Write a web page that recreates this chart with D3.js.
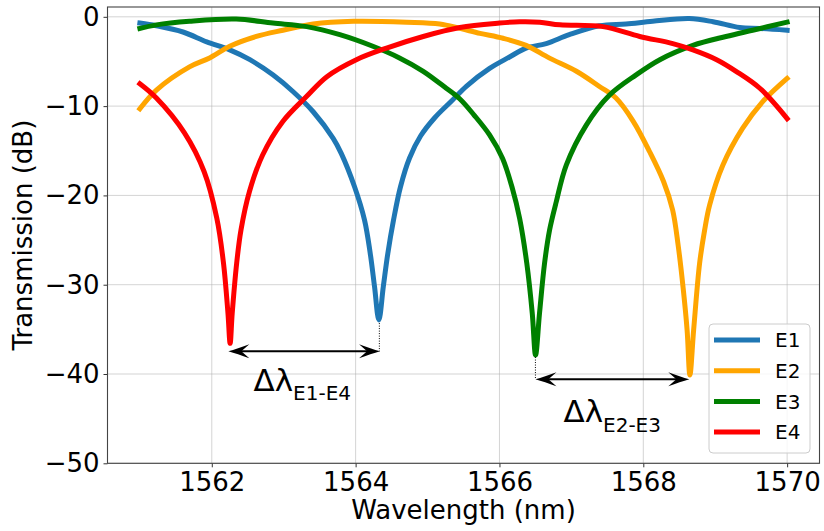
<!DOCTYPE html>
<html>
<head>
<meta charset="utf-8">
<script src="https://cdn.jsdelivr.net/npm/d3@7"></script>
<style>
  html, body { margin: 0; padding: 0; background: #fff; }
  svg { display: block; font-family: "DejaVu Sans", sans-serif; }
</style>
</head>
<body>
<svg id="chart" width="824" height="531"></svg>
<script>
// ---------------- data ----------------
const seriesNames = ["E1", "E2", "E3", "E4"];
const seriesColors = ["#1f77b4", "#ffa500", "#008000", "#ff0000"];

const e1Wl = [1561.00,1561.23,1561.60,1561.93,1562.25,1562.53,1562.854,1563.132,1563.41,1563.688,1563.80,1563.985,1564.124,1564.203,1564.263,1564.323,1564.385,1564.448,1564.527,1564.624,1564.75,1564.903,1565.097,1565.334,1565.543,1565.863,1566.14,1566.37,1566.65,1566.97,1567.39,1567.76,1568.13,1568.64,1568.97,1569.34,1569.62,1570.00];
const e1Db = [-0.7,-1.0,-1.7,-2.8,-3.7,-4.8,-6.52,-8.39,-10.63,-13.61,-15.29,-19.03,-22.76,-26.48,-30.22,-33.95,-30.22,-26.48,-22.76,-19.03,-15.81,-13.35,-11.33,-9.43,-7.75,-5.77,-4.5,-3.5,-3.0,-2.0,-1.0,-0.8,-0.5,-0.2,-0.55,-1.2,-1.3,-1.5];

const e2Wl = [1561.00,1561.23,1561.69,1561.97,1562.25,1562.62,1562.99,1563.41,1563.97,1564.71,1565.17,1565.45,1565.73,1566.05,1566.37,1566.69,1567.07,1567.39,1567.62,1567.86,1568.088,1568.283,1568.408,1568.484,1568.554,1568.609,1568.648,1568.70,1568.783,1568.853,1568.922,1569.107,1569.38,1569.66,1570.00];
const e2Db = [-10.3,-8.2,-5.6,-4.6,-3.3,-2.2,-1.5,-0.8,-0.5,-0.6,-0.8,-1.3,-1.85,-2.4,-3.2,-4.6,-6.1,-7.8,-9.1,-11.7,-15.11,-18.47,-21.63,-25.55,-30.37,-35.07,-40.11,-35.07,-27.6,-23.87,-21.08,-16.6,-12.5,-9.5,-6.9];

const e3Wl = [1561.00,1561.23,1561.69,1562.34,1562.85,1563.32,1563.78,1564.24,1564.61,1564.94,1565.26,1565.45,1565.647,1565.86,1566.042,1566.179,1566.28,1566.38,1566.456,1566.502,1566.557,1566.627,1566.697,1566.79,1566.929,1567.207,1567.531,1567.90,1568.23,1568.69,1569.15,1569.52,1570.00];
const e3Db = [-1.3,-0.9,-0.5,-0.25,-0.7,-1.1,-2.0,-3.3,-4.6,-6.1,-8.0,-9.2,-11.0,-13.2,-15.85,-19.2,-22.56,-27.6,-33.2,-37.87,-33.2,-27.6,-23.87,-20.71,-16.6,-12.12,-8.76,-6.5,-4.8,-3.2,-2.2,-1.5,-0.6];

const e4Wl = [1561.00,1561.23,1561.62,1561.894,1562.07,1562.163,1562.225,1562.255,1562.284,1562.346,1562.406,1562.523,1562.707,1562.985,1563.32,1563.60,1564.01,1564.43,1564.94,1565.45,1566.00,1566.28,1566.56,1566.84,1567.44,1567.95,1568.41,1568.69,1569.02,1569.29,1569.62,1570.00];
const e4Db = [-7.5,-9.1,-13.0,-17.35,-22.56,-27.6,-33.2,-36.56,-33.2,-27.6,-23.87,-19.59,-15.48,-11.75,-8.9,-6.7,-4.8,-3.5,-2.2,-1.2,-0.7,-0.55,-0.6,-0.9,-1.1,-2.2,-3.0,-3.7,-4.8,-6.1,-8.0,-11.4];

const xTickValues = [1562, 1564, 1566, 1568, 1570];
const xTickLabels = ["1562", "1564", "1566", "1568", "1570"];
const yTickValues = [-50, -40, -30, -20, -10, 0];
const yTickLabels = ["\u221250", "\u221240", "\u221230", "\u221220", "\u221210", "0"];

// annotations: arrow [λ start, λ end, dB], dotted guide [λ, dB top, dB bottom], label [λ, dB, subscript]
const arrows = [[1562.23, 1564.34, -37.45], [1566.50, 1568.64, -40.6]];
const guides = [[1564.33, -34.3, -37.45], [1566.50, -38.1, -40.6]];
const labels = [[1562.58, -41.9, "E1-E4"], [1566.89, -45.4, "E2-E3"]];

// ---------------- drawing ----------------
const svg = d3.select("#chart");
const x = d3.scaleLinear().domain([1560.55, 1570.45]).range([107.5, 819.5]);
const y = d3.scaleLinear().domain([-50, 1.1]).range([463.3, 7]);

// grid
const grid = svg.append("g").attr("stroke", "#b0b0b0").attr("stroke-opacity", 0.55).attr("stroke-width", 1);
xTickValues.forEach(v => grid.append("line").attr("x1", x(v)).attr("x2", x(v)).attr("y1", y.range()[0]).attr("y2", y.range()[1]));
yTickValues.forEach(v => grid.append("line").attr("y1", y(v)).attr("y2", y(v)).attr("x1", x.range()[0]).attr("x2", x.range()[1]));

// axes
const xAxis = d3.axisBottom(x).tickValues(xTickValues).tickFormat((d, i) => xTickLabels[i]).tickSize(4).tickPadding(5);
const yAxis = d3.axisLeft(y).tickValues(yTickValues).tickFormat((d, i) => yTickLabels[i]).tickSize(4).tickPadding(4);
const gx = svg.append("g").attr("transform", `translate(0,${y.range()[0]})`).call(xAxis);
const gy = svg.append("g").attr("transform", `translate(${x.range()[0]},0)`).call(yAxis);
[gx, gy].forEach(g => {
  g.select(".domain").remove();
  g.selectAll(".tick line").attr("stroke", "#333").attr("stroke-width", 1);
  g.selectAll(".tick text").attr("font-family", "DejaVu Sans").attr("font-size", 26).attr("fill", "#000");
});

// lines
const line = d3.line().x(d => x(d[0])).y(d => y(d[1])).curve(d3.curveCatmullRom.alpha(0.5));
const wls = [e1Wl, e2Wl, e3Wl, e4Wl];
const dbs = [e1Db, e2Db, e3Db, e4Db];
const plot = svg.append("g");
seriesNames.forEach((n, i) => {
  const pts = wls[i].map((w, j) => [w, dbs[i][j]]);
  plot.append("path").attr("d", line(pts)).attr("fill", "none")
    .attr("stroke", seriesColors[i]).attr("stroke-width", 5)
    .attr("stroke-linejoin", "round").attr("stroke-linecap", "square");
});

// frame
svg.append("rect").attr("x", x.range()[0]).attr("y", y.range()[1])
  .attr("width", x.range()[1] - x.range()[0]).attr("height", y.range()[0] - y.range()[1])
  .attr("fill", "none").attr("stroke", "#444").attr("stroke-width", 1.1);

// annotations
const headPath = "M0,0 Q9,-2.5 21,-7 L13,0 L21,7 Q9,2.5 0,0 Z";
const ann = svg.append("g");
guides.forEach(g => {
  ann.append("line").attr("x1", x(g[0])).attr("x2", x(g[0])).attr("y1", y(g[1])).attr("y2", y(g[2]))
    .attr("stroke", "#000").attr("stroke-width", 1).attr("stroke-dasharray", "1,1.5");
});
arrows.forEach(a => {
  const x1 = x(a[0]), x2 = x(a[1]), yy = y(a[2]);
  ann.append("line").attr("x1", x1 + 10).attr("x2", x2 - 10).attr("y1", yy).attr("y2", yy)
    .attr("stroke", "#000").attr("stroke-width", 2);
  ann.append("path").attr("d", headPath).attr("transform", `translate(${x1},${yy})`).attr("fill", "#000");
  ann.append("path").attr("d", headPath).attr("transform", `translate(${x2},${yy}) rotate(180)`).attr("fill", "#000");
});
labels.forEach(l => {
  const t = ann.append("text").attr("x", x(l[0])).attr("y", y(l[1])).attr("font-family", "DejaVu Sans").attr("fill", "#000");
  t.append("tspan").attr("font-size", 31).text("\u0394\u03bb");
  t.append("tspan").attr("font-size", 20).attr("dy", 9.5).text(l[2]);
});

// axis titles
svg.append("text").attr("x", (x.range()[0] + x.range()[1]) / 2).attr("y", 519)
  .attr("text-anchor", "middle").attr("font-size", 26).attr("fill", "#000").text("Wavelength (nm)");
svg.append("text").attr("transform", `translate(32,${(y.range()[0] + y.range()[1]) / 2}) rotate(-90)`)
  .attr("text-anchor", "middle").attr("font-size", 26).attr("fill", "#000").text("Transmission (dB)");

// legend
const lg = svg.append("g");
lg.append("rect").attr("x", 709).attr("y", 324).attr("width", 101).attr("height", 129).attr("rx", 4)
  .attr("fill", "#fff").attr("fill-opacity", 0.8).attr("stroke", "#cccccc").attr("stroke-width", 1);
seriesNames.forEach((n, i) => {
  const cy = 340 + i * 30.7;
  lg.append("line").attr("x1", 714).attr("x2", 760).attr("y1", cy).attr("y2", cy)
    .attr("stroke", seriesColors[i]).attr("stroke-width", 5);
  lg.append("text").attr("x", 775).attr("y", cy).attr("dy", "0.36em").attr("font-size", 20).attr("fill", "#000").text(n);
});
</script>
</body>
</html>
